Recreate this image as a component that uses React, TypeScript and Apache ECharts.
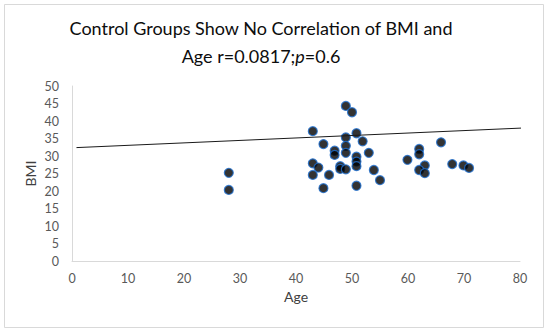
import React, { useEffect, useRef } from "react";
import * as echarts from "echarts";

const ages = [28, 28, 43, 48.9, 50, 50.8, 48.9, 51.9, 44.9, 48.9, 46.9, 48.9, 46.9, 53, 50.8, 50.8, 50.8, 43, 44, 47.9, 47.9, 48.9, 53.9, 43, 45.9, 55, 44.9, 50.8, 65.9, 62, 62, 59.9, 63, 62, 63, 67.9, 69.9, 70.9];
const bmis = [25.2, 20.3, 37.1, 44.3, 42.5, 36.5, 35.3, 34.2, 33.4, 32.9, 31.5, 30.9, 30.3, 30.9, 29.8, 28.4, 27.1, 27.9, 26.7, 27.1, 26.3, 26.2, 26.0, 24.6, 24.6, 23.1, 20.8, 21.5, 33.9, 32, 30.5, 28.9, 27.3, 26, 25.1, 27.7, 27.3, 26.6];
const trendAges = [0.8, 83.4];
const trendBmis = [32.4, 38.2];
const titleLines = ["Control Groups Show No Correlation of BMI and", "Age r=0.0817;{i|p}=0.6"];

export default function App() {
  const ref = useRef<HTMLDivElement>(null);
  useEffect(() => {
    const chart = echarts.init(ref.current!, null, { renderer: "svg" });
    const font = "Lato, 'Open Sans', sans-serif";
    chart.setOption({
      animation: false,
      backgroundColor: "#ffffff",
      title: {
        text: titleLines.join("\n"),
        left: 256,
        textAlign: "center",
        top: 9,
        textStyle: {
          fontFamily: font,
          fontSize: 18,
          fontWeight: "normal",
          color: "#0d0d0d",
          lineHeight: 28,
          rich: {
            i: { fontFamily: font, fontSize: 18, fontStyle: "italic", color: "#0d0d0d", lineHeight: 28 },
          },
        },
      },
      graphic: [
        {
          type: "rect",
          shape: { x: 4.5, y: 4.5, width: 539, height: 323 },
          style: { fill: "none", stroke: "#d9d9d9", lineWidth: 1 },
          silent: true,
        },
      ],
      grid: { left: 72, right: 30, top: 86, bottom: 71 },
      xAxis: {
        type: "value",
        min: 0,
        max: 80,
        interval: 10,
        name: "Age",
        nameLocation: "middle",
        nameGap: 28,
        nameMoveOverlap: false,
        nameTextStyle: { fontFamily: font, fontSize: 14, color: "#404040" },
        axisLine: { show: true, lineStyle: { color: "#d9d9d9", width: 1 } },
        axisTick: { show: false },
        splitLine: { show: false },
        axisLabel: { fontFamily: font, fontSize: 12.5, color: "#595959", margin: 11 },
      },
      yAxis: {
        type: "value",
        min: 0,
        max: 50,
        interval: 5,
        name: "BMI",
        nameLocation: "middle",
        nameGap: 35,
        nameMoveOverlap: false,
        nameTextStyle: { fontFamily: font, fontSize: 14, color: "#404040" },
        axisLine: { show: true, lineStyle: { color: "#d9d9d9", width: 1 } },
        axisTick: { show: false },
        splitLine: { show: false },
        axisLabel: { fontFamily: font, fontSize: 12.5, color: "#595959", margin: 13 },
      },
      series: [
        {
          type: "line",
          data: trendAges.map((a, i) => [a, trendBmis[i]]),
          symbol: "none",
          clip: false,
          lineStyle: { color: "#1a1a1a", width: 1 },
          silent: true,
        },
        {
          type: "scatter",
          data: ages.map((a, i) => [a, bmis[i]]),
          symbol: "circle",
          symbolSize: 9,
          itemStyle: { color: "#000000", borderColor: "#1f6fd0", borderWidth: 1.2 },
        },
      ],
    });
    return () => chart.dispose();
  }, []);
  return (
    <div
      ref={ref}
      style={{ position: "absolute", left: 0, top: 0, width: 550, height: 332 }}
    />
  );
}
